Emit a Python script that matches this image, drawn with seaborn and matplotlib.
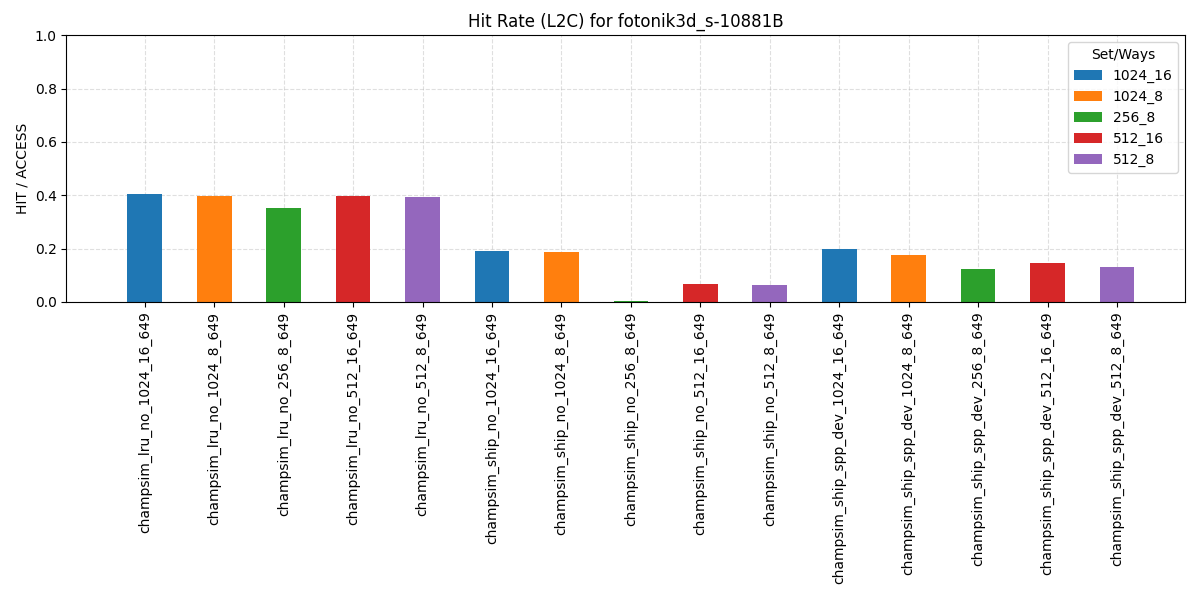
import matplotlib
matplotlib.use("Agg")
import matplotlib.pyplot as plt
import seaborn as sns
import pandas as pd

configs = [
    "champsim_lru_no_1024_16_649",
    "champsim_lru_no_1024_8_649",
    "champsim_lru_no_256_8_649",
    "champsim_lru_no_512_16_649",
    "champsim_lru_no_512_8_649",
    "champsim_ship_no_1024_16_649",
    "champsim_ship_no_1024_8_649",
    "champsim_ship_no_256_8_649",
    "champsim_ship_no_512_16_649",
    "champsim_ship_no_512_8_649",
    "champsim_ship_spp_dev_1024_16_649",
    "champsim_ship_spp_dev_1024_8_649",
    "champsim_ship_spp_dev_256_8_649",
    "champsim_ship_spp_dev_512_16_649",
    "champsim_ship_spp_dev_512_8_649",
]
set_ways = ["1024_16", "1024_8", "256_8", "512_16", "512_8"] * 3
hit_rate = [0.404, 0.397, 0.351, 0.397, 0.394,
            0.190, 0.186, 0.004, 0.068, 0.064,
            0.197, 0.177, 0.122, 0.145, 0.130]
hue_order = ["1024_16", "1024_8", "256_8", "512_16", "512_8"]

df = pd.DataFrame({"config": configs, "setways": set_ways, "rate": hit_rate})

fig, ax = plt.subplots(figsize=(12, 6), dpi=100)
sns.barplot(data=df, x="config", y="rate", hue="setways", hue_order=hue_order,
            order=configs, dodge=False, width=0.5, palette="tab10",
            saturation=1.0, errorbar=None, ax=ax)
ax.set_title("Hit Rate (L2C) for fotonik3d_s-10881B")
ax.set_ylabel("HIT / ACCESS")
ax.set_xlabel("")
ax.set_ylim(0, 1.0)
ax.set_xlim(-1.13, 14.98)
ax.tick_params(axis="x", rotation=90)
ax.grid(True, linestyle="--", alpha=0.4)
ax.set_axisbelow(True)
ax.legend(title="Set/Ways", loc="upper right")
fig.subplots_adjust(left=0.0553, right=0.9875, top=0.941, bottom=0.497)
fig.savefig("out.png")
